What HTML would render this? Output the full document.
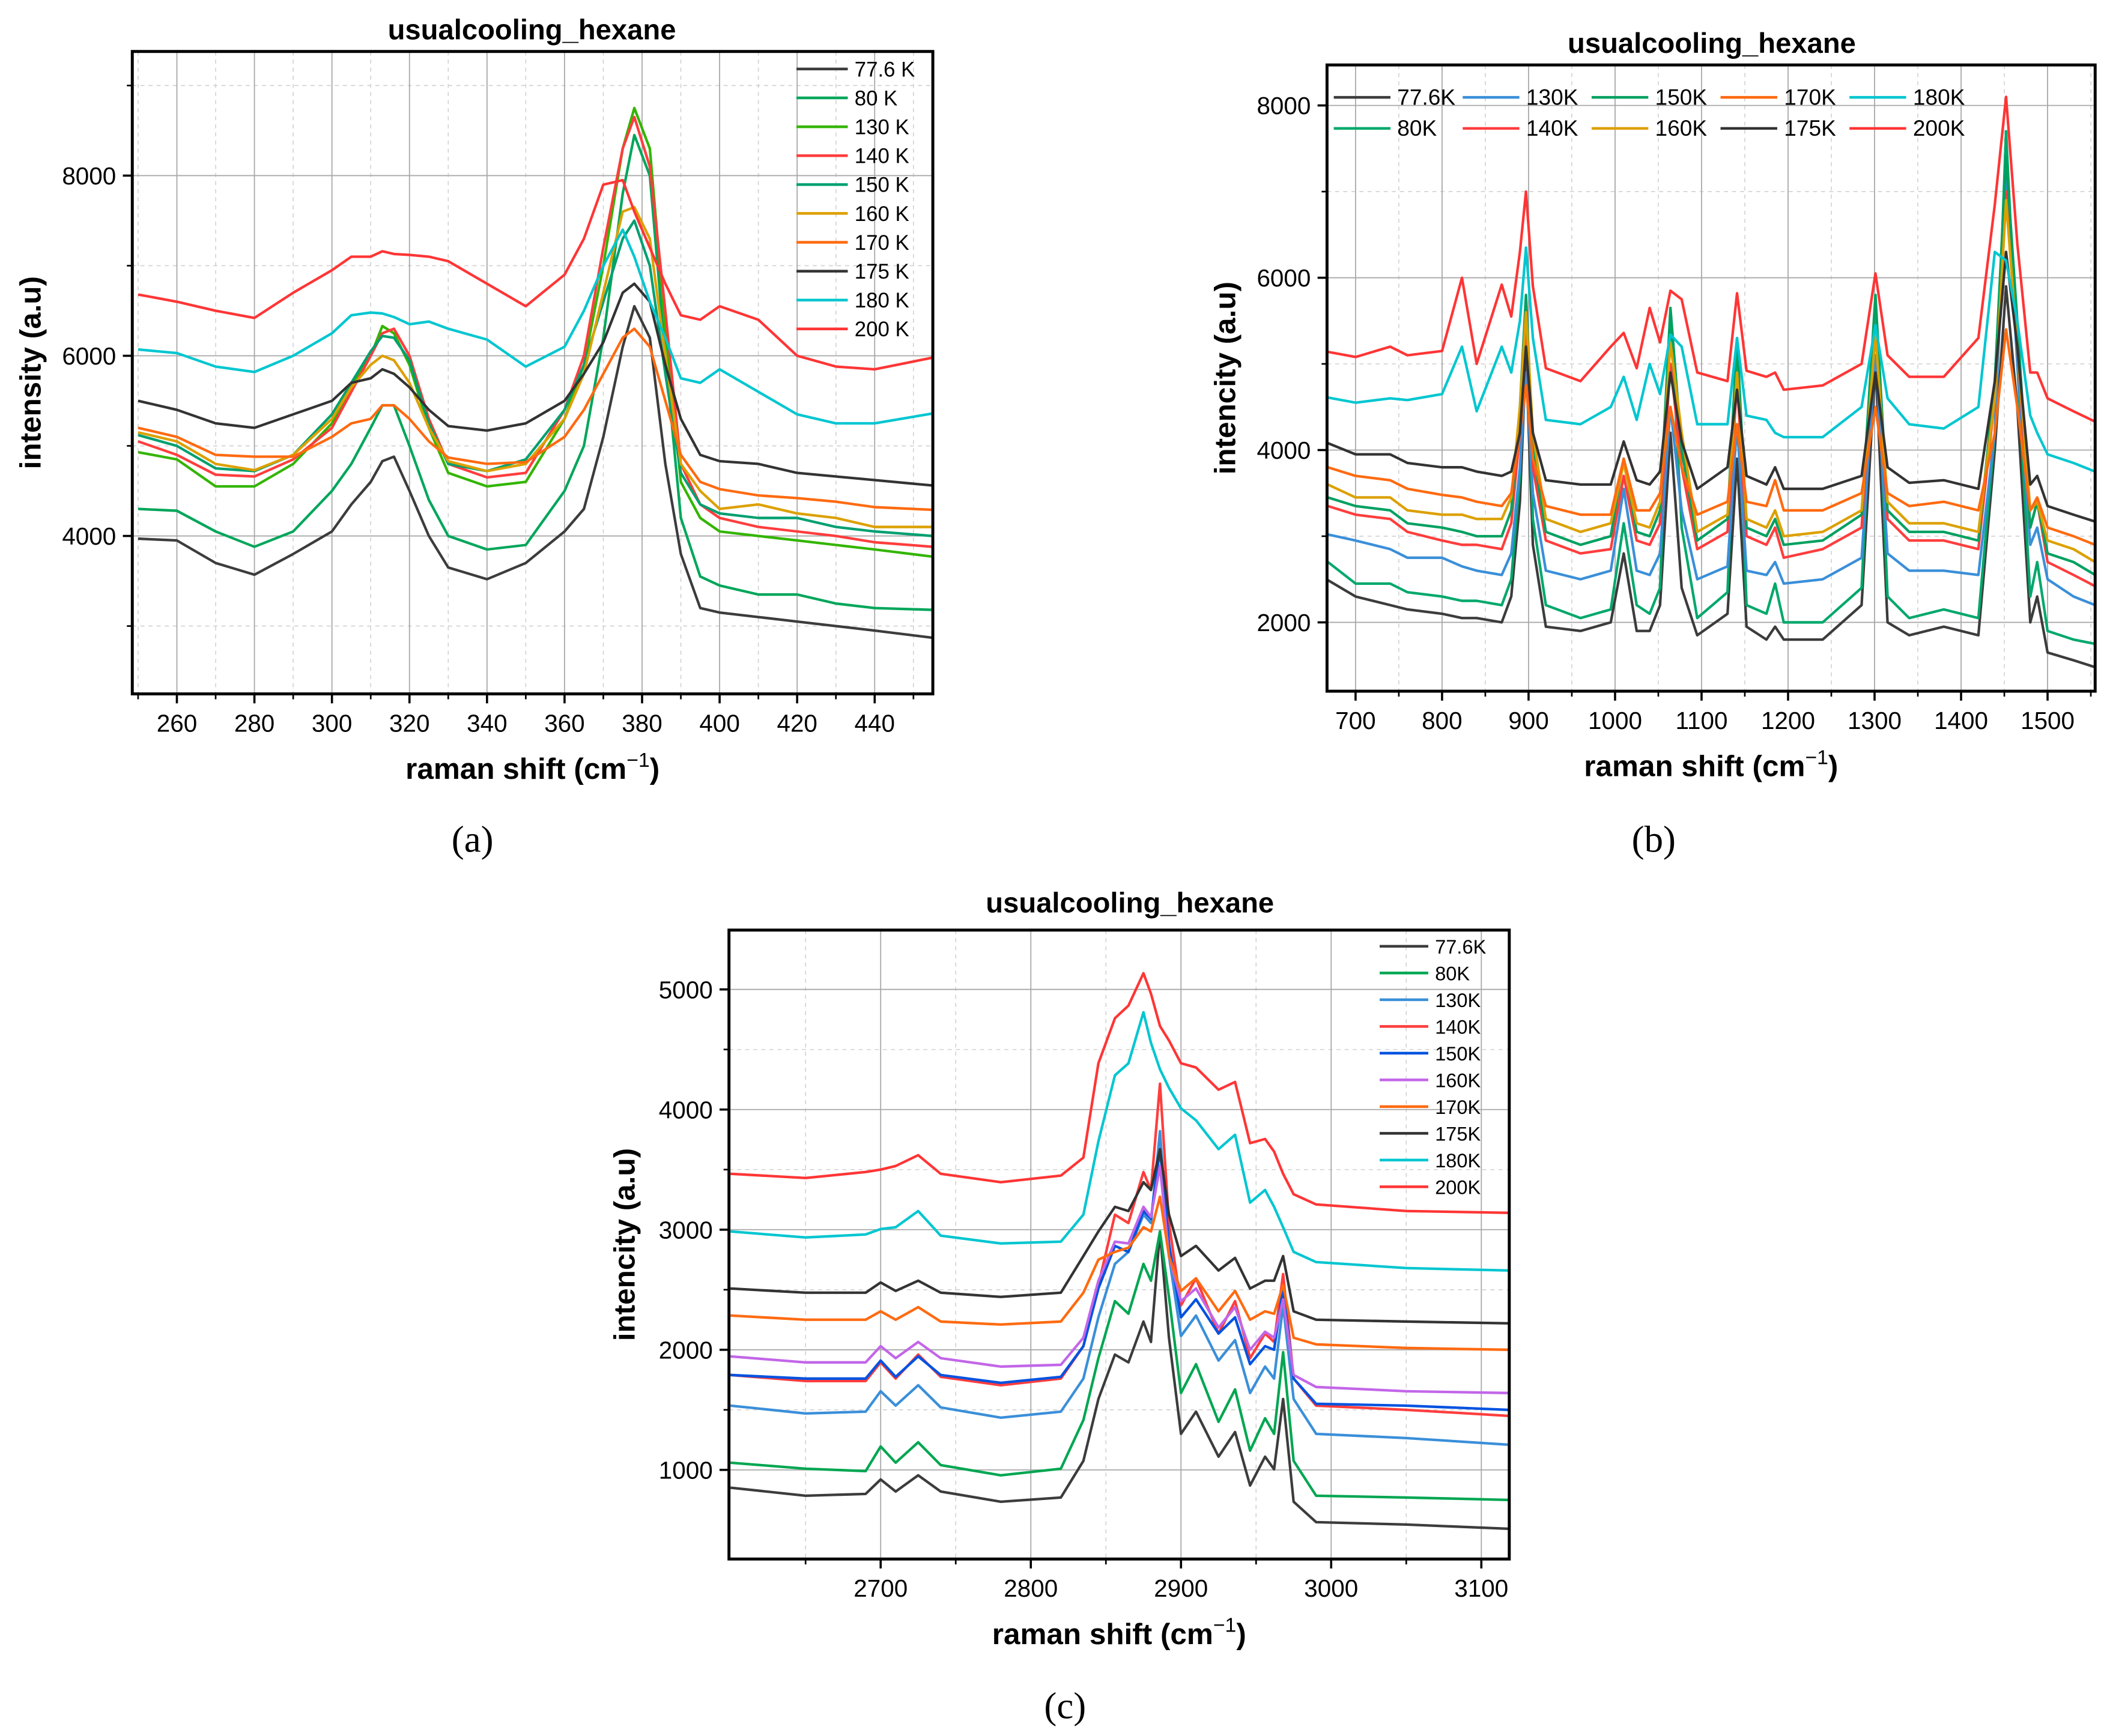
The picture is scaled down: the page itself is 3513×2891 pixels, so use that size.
<!DOCTYPE html>
<html><head><meta charset="utf-8"><style>
html,body{margin:0;padding:0;background:#fff}
svg{display:block}
text{font-family:"Liberation Sans",Arial,sans-serif}
</style></head><body>
<svg id="fig" xmlns="http://www.w3.org/2000/svg" width="3513" height="2891" viewBox="0 0 1563 1286">
<rect x="0" y="0" width="1563" height="1286" fill="#fff"/>
<text x="350" y="631" font-size="28" text-anchor="middle" style="font-family:'Liberation Serif',serif">(a)</text>
<text x="1225" y="631" font-size="28" text-anchor="middle" style="font-family:'Liberation Serif',serif">(b)</text>
<text x="789" y="1273" font-size="28" text-anchor="middle" style="font-family:'Liberation Serif',serif">(c)</text>
</svg>
<script>
// ---------- Panel A data ----------
const aX = [250,260,270,280,290,300,305,310,313,316,320,325,330,340,350,360,365,370,375,378,382,386,390,395,400,410,420,430,440,455];
const aNames = ['77.6 K','80 K','130 K','140 K','150 K','160 K','170 K','175 K','180 K','200 K'];
const aK776 = [3970,3950,3700,3570,3800,4050,4350,4600,4830,4880,4500,4000,3650,3520,3700,4050,4300,5100,6100,6550,6200,4800,3800,3200,3150,3100,3050,3000,2950,2870];
const aK80  = [4300,4280,4050,3880,4050,4500,4800,5200,5450,5450,5000,4400,4000,3850,3900,4500,5000,6200,7800,8450,8000,6000,4200,3550,3450,3350,3350,3250,3200,3180];
const aK130 = [4930,4850,4550,4550,4800,5250,5650,6000,6330,6250,5900,5200,4700,4550,4600,5300,5900,7000,8300,8750,8300,6300,4600,4200,4050,4000,3950,3900,3850,3770];
const aK140 = [5050,4900,4680,4660,4850,5200,5600,6000,6250,6300,6000,5300,4800,4650,4700,5400,6000,7200,8300,8650,8100,6500,4800,4350,4200,4100,4050,4000,3930,3880];
const aK150 = [5120,5000,4750,4720,4900,5350,5700,6050,6220,6200,5950,5250,4800,4720,4850,5400,5900,6600,7300,7500,7000,5800,4700,4350,4250,4200,4200,4100,4050,4000];
const aK160 = [5150,5050,4800,4730,4900,5300,5650,5900,6000,5950,5700,5200,4830,4720,4800,5300,5800,6700,7600,7650,7300,6000,4800,4500,4300,4350,4250,4200,4100,4100];
const aK170 = [5200,5100,4900,4880,4880,5100,5250,5300,5450,5450,5300,5050,4870,4800,4820,5100,5400,5800,6200,6300,6100,5500,4900,4600,4520,4450,4420,4380,4320,4290];
const aK175 = [5500,5400,5250,5200,5350,5500,5700,5750,5850,5800,5650,5400,5220,5170,5250,5500,5800,6150,6700,6800,6600,5900,5300,4900,4830,4800,4700,4660,4620,4560];
const aK180 = [6070,6030,5880,5820,6000,6250,6450,6480,6470,6430,6350,6380,6300,6180,5880,6100,6500,7000,7400,7100,6600,6200,5750,5700,5850,5600,5350,5250,5250,5360];
const aK200 = [6680,6600,6500,6420,6700,6950,7100,7100,7160,7130,7120,7100,7050,6800,6550,6900,7300,7900,7950,7600,7200,6800,6450,6400,6550,6400,6000,5880,5850,5980];
const aXTicks = [260,280,300,320,340,360,380,400,420,440];
const aYTicks = [4000,6000,8000];

// ---------- Panel B data ----------
const bX = [668,700,740,760,800,823,840,869,880,890,897,905,920,960,995,1010,1025,1040,1052,1064,1077,1095,1130,1141,1152,1175,1185,1195,1240,1285,1301,1315,1340,1380,1420,1439,1452,1465,1480,1488,1500,1530,1555];
const bNames = ['77.6K','80K','130K','140K','150K','160K','170K','175K','180K','200K'];
const bK776 = [2490,2300,2200,2150,2100,2050,2050,2000,2300,3400,5100,2900,1950,1900,2000,2800,1900,1900,2200,4200,2400,1850,2100,3900,1950,1800,1950,1800,1800,2200,5000,2000,1850,1950,1850,4000,5900,4500,2000,2300,1650,1560,1480];
const bK80  = [2700,2450,2450,2350,2300,2250,2250,2200,2500,3700,5400,3200,2200,2050,2150,3150,2200,2100,2400,5600,3100,2050,2350,5100,2200,2100,2450,2000,2000,2400,5700,2300,2050,2150,2050,4200,7700,5000,2300,2700,1900,1800,1750];
const bK130 = [3020,2950,2850,2750,2750,2650,2600,2550,2800,3800,4900,3500,2600,2500,2600,3550,2600,2550,2800,4500,3300,2500,2650,4300,2600,2550,2700,2450,2500,2750,5100,2800,2600,2600,2550,4200,7200,5000,2900,3100,2500,2300,2200];
const bK140 = [3350,3250,3200,3050,2950,2900,2900,2850,3150,4200,5300,3800,2950,2800,2850,3700,2950,2900,3150,5000,3800,2850,3050,4800,3000,2900,3100,2750,2850,3100,5600,3200,2950,2950,2850,4600,7000,5200,3100,3400,2700,2550,2420];
const bK150 = [3450,3350,3300,3150,3100,3050,3000,3000,3300,4500,5800,4000,3050,2900,3000,3900,3050,3000,3300,5650,4000,2950,3200,5300,3100,3000,3200,2900,2950,3250,5800,3300,3050,3050,2950,4800,7400,5500,3100,3400,2800,2700,2550];
const bK160 = [3600,3450,3450,3300,3250,3250,3200,3200,3450,4500,5600,4200,3200,3050,3150,3850,3150,3100,3400,5250,4200,3050,3250,4900,3200,3100,3300,3000,3050,3300,5350,3400,3150,3150,3050,4600,6900,5200,3300,3400,2950,2850,2700];
const bK170 = [3800,3700,3650,3550,3480,3450,3400,3350,3500,4200,4750,3900,3350,3250,3250,3900,3300,3300,3500,4500,3800,3250,3400,4300,3400,3350,3650,3300,3300,3500,4500,3500,3350,3400,3300,4200,5400,4500,3300,3450,3100,3000,2900];
const bK175 = [4080,3950,3950,3850,3800,3800,3750,3700,3750,4200,5200,4200,3650,3600,3600,4100,3650,3600,3750,4900,4100,3550,3800,4700,3700,3600,3800,3550,3550,3700,4900,3800,3620,3650,3550,4800,6300,5200,3600,3700,3350,3250,3170];
const bK180 = [4610,4550,4600,4580,4650,5200,4450,5200,4900,5500,6350,5300,4350,4300,4500,4850,4350,5000,4650,5340,5200,4300,4300,5300,4400,4350,4200,4150,4150,4500,5450,4600,4300,4250,4500,6300,6200,5500,4400,4200,3950,3850,3750];
const bK200 = [5140,5080,5200,5100,5150,6000,5000,5920,5550,6300,7000,5900,4950,4800,5200,5360,4950,5650,5250,5850,5750,4900,4800,5820,4920,4850,4900,4700,4750,5000,6050,5100,4850,4850,5300,6850,8100,6400,4900,4900,4600,4450,4330];
const bXTicks = [700,800,900,1000,1100,1200,1300,1400,1500];
const bYTicks = [2000,4000,6000,8000];

// ---------- Panel C data ----------
const cX = [2600,2650,2690,2700,2710,2725,2740,2780,2820,2835,2845,2856,2865,2875,2880,2886,2892,2900,2910,2925,2936,2946,2956,2962,2968,2975,2990,3050,3118];
const cNames = ['77.6K','80K','130K','140K','150K','160K','170K','175K','180K','200K'];
const cK776 = [852,785,800,920,820,955,820,735,770,1075,1590,1960,1895,2235,2065,2985,2100,1300,1485,1110,1315,870,1110,1005,1590,735,565,545,510];
const cK80  = [1060,1010,990,1195,1060,1230,1040,955,1010,1415,1930,2405,2300,2715,2575,2985,2440,1640,1880,1400,1670,1160,1430,1300,1980,1075,785,770,750];
const cK130 = [1535,1470,1485,1655,1535,1705,1520,1435,1485,1760,2270,2715,2815,3125,3055,3820,2780,2115,2285,1910,2080,1640,1860,1760,2370,1590,1300,1265,1210];
const cK140 = [1790,1740,1740,1895,1760,1960,1775,1705,1760,2030,2540,3125,3055,3480,3330,4215,3055,2370,2595,2135,2405,1930,2135,2065,2630,1760,1535,1500,1450];
const cK150 = [1790,1760,1760,1910,1775,1945,1790,1725,1775,2030,2510,2865,2815,3155,3090,3670,2885,2270,2420,2135,2270,1880,2030,2000,2510,1760,1550,1535,1500];
const cK160 = [1945,1895,1895,2030,1930,2065,1930,1860,1875,2100,2575,2900,2885,3190,3105,3530,2780,2405,2510,2185,2355,2000,2150,2100,2420,1790,1690,1655,1640];
const cK170 = [2285,2250,2250,2320,2250,2355,2235,2210,2235,2475,2750,2815,2850,3020,2985,3275,2780,2490,2595,2320,2490,2250,2320,2300,2540,2100,2045,2015,2000];
const cK175 = [2510,2475,2475,2560,2490,2575,2475,2440,2475,2780,2985,3190,3155,3395,3330,3670,3125,2780,2865,2660,2765,2510,2575,2575,2780,2320,2250,2235,2220];
const cK180 = [2985,2935,2960,3005,3020,3155,2950,2885,2900,3125,3735,4285,4385,4810,4555,4335,4180,4010,3910,3670,3790,3225,3330,3190,3020,2815,2730,2680,2660];
const cK200 = [3465,3430,3480,3500,3530,3620,3465,3395,3450,3600,4385,4760,4865,5135,4965,4695,4575,4385,4350,4165,4230,3720,3755,3650,3465,3295,3210,3155,3140];
const cXTicks = [2700,2800,2900,3000,3100];
const cYTicks = [1000,2000,3000,4000,5000];

const NS = 'http://www.w3.org/2000/svg';
const svg = document.getElementById('fig');
function mk(tag, attrs, parent) {
  const e = document.createElementNS(NS, tag);
  for (const k in attrs) e.setAttribute(k, attrs[k]);
  (parent || svg).appendChild(e);
  return e;
}

function drawPanel(p) {
  const g = mk('g', {});
  
  
  const sx = v => p.L + (v - p.x0) / (p.x1 - p.x0) * (p.R - p.L);
  const sy = v => p.B - (v - p.y0) / (p.y1 - p.y0) * (p.B - p.T);
  for (const v of p.xMinor) {
    const l = mk('line', {x1: sx(v), x2: sx(v), y1: p.T, y2: p.B, stroke: '#d0d0d0', 'stroke-width': 0.7, 'stroke-dasharray': '3,3'}, g);
    
    
  }
  for (const v of p.yMinor) {
    const l = mk('line', {x1: p.L, x2: p.R, y1: sy(v), y2: sy(v), stroke: '#d0d0d0', 'stroke-width': 0.7, 'stroke-dasharray': '3,3'}, g);
    
    
  }
  for (const v of p.xTicks) {
    const l = mk('line', {x1: sx(v), x2: sx(v), y1: p.T, y2: p.B, stroke: '#a8a8a8', 'stroke-width': 0.8}, g);
    
    
  }
  for (const v of p.yTicks) {
    const l = mk('line', {x1: p.L, x2: p.R, y1: sy(v), y2: sy(v), stroke: '#a8a8a8', 'stroke-width': 0.8}, g);
    
    
  }
  const clipId = p.id + '-clip';
  const defs = mk('defs', {}, g);
  const cp = mk('clipPath', {id: clipId}, defs);
  mk('rect', {x: p.L, y: p.T, width: p.R - p.L, height: p.B - p.T}, cp);
  const sg = mk('g', {'clip-path': 'url(#' + clipId + ')'}, g);
  p.series.forEach((s, i) => {
    const d = p.xs.map((x, j) => (j ? 'L' : 'M') + sx(x).toFixed(2) + ',' + sy(s[j]).toFixed(2)).join('');
    const path = mk('path', {d: d, fill: 'none', stroke: p.colors[i], 'stroke-width': 1.9, 'stroke-linejoin': 'round'}, sg);
    
    
  });
  const fr = mk('rect', {x: p.L, y: p.T, width: p.R - p.L, height: p.B - p.T, fill: 'none', stroke: '#000', 'stroke-width': 2.2}, g);
  
  
  for (const v of p.xTicks) {
    mk('line', {x1: sx(v), x2: sx(v), y1: p.B, y2: p.B + 7, stroke: '#000', 'stroke-width': 1.6}, g);
    const t = mk('text', {x: sx(v), y: p.B + 28, 'font-size': 18, 'text-anchor': 'middle'}, g);
    t.textContent = v;
    
    
  }
  for (const v of p.xMinor) mk('line', {x1: sx(v), x2: sx(v), y1: p.B, y2: p.B + 4, stroke: '#000', 'stroke-width': 1.2}, g);
  for (const v of p.yTicks) {
    mk('line', {x1: p.L - 7, x2: p.L, y1: sy(v), y2: sy(v), stroke: '#000', 'stroke-width': 1.6}, g);
    const t = mk('text', {x: p.L - 12, y: sy(v) + 6.5, 'font-size': 18, 'text-anchor': 'end'}, g);
    t.textContent = v;
    
    
  }
  for (const v of p.yMinor) mk('line', {x1: p.L - 4, x2: p.L, y1: sy(v), y2: sy(v), stroke: '#000', 'stroke-width': 1.2}, g);
  const ti = mk('text', {x: p.titleX, y: p.titleY, 'font-size': 21, 'font-weight': 'bold', 'text-anchor': 'middle'}, g);
  ti.textContent = 'usualcooling_hexane';
  
  
  const xt = mk('text', {x: (p.L + p.R) / 2, y: p.B + 63, 'font-size': 22, 'font-weight': 'bold', 'text-anchor': 'middle'}, g);
  xt.innerHTML = 'raman shift (cm<tspan font-size="15" font-weight="normal" dy="-9">\u22121</tspan><tspan dy="9">)</tspan>';
  
  
  const yt = mk('text', {x: 0, y: 0, 'font-size': 22, 'font-weight': 'bold', 'text-anchor': 'middle', transform: 'translate(' + p.ylabX + ',' + ((p.T + p.B) / 2) + ') rotate(-90)'}, g);
  yt.textContent = p.ylab;
  
  
  p.names.forEach((n, i) => {
    const pos = p.legendPos(i);
    const lg = mk('g', {}, g);
    
    
    mk('line', {x1: pos[0], x2: pos[0] + p.legLen, y1: pos[1], y2: pos[1], stroke: p.colors[i], 'stroke-width': 2}, lg);
    const t = mk('text', {x: pos[0] + p.legLen + 5, y: pos[1] + 5.5, 'font-size': p.legFont}, lg);
    t.textContent = n;
  });
}

const range = (a, b, s) => { const r = []; for (let v = a; v <= b + 1e-9; v += s) r.push(v); return r; };

drawPanel({
  id: 'panel-a', L: 98, R: 691, T: 38, B: 514, x0: 248.5, x1: 455, y0: 2247, y1: 9378,
  xs: aX, series: [aK776, aK80, aK130, aK140, aK150, aK160, aK170, aK175, aK180, aK200],
  names: aNames,
  colors: ['#3c3c3c', '#00a65a', '#33b500', '#ff3d3d', '#00a070', '#dca000', '#ff6a10', '#333333', '#00c6d0', '#ff3535'],
  xTicks: aXTicks, yTicks: aYTicks, xMinor: range(250, 450, 20), yMinor: [3000, 5000, 7000, 9000],
  titleX: 394, titleY: 29, ylab: 'intensity (a.u)', ylabX: 30,
  legLen: 38, legFont: 15.5, legendPos: i => [590, 51 + i * 21.4]
});
drawPanel({
  id: 'panel-b', L: 983, R: 1552, T: 48, B: 512, x0: 667, x1: 1555, y0: 1201, y1: 8470,
  xs: bX, series: [bK776, bK80, bK130, bK140, bK150, bK160, bK170, bK175, bK180, bK200],
  names: bNames,
  colors: ['#3c3c3c', '#00a86b', '#3a8fd9', '#ff3d3d', '#00a060', '#dca000', '#ff6a10', '#333333', '#00c6d0', '#ff3535'],
  xTicks: bXTicks, yTicks: bYTicks, xMinor: range(750, 1550, 100), yMinor: [3000, 5000, 7000],
  titleX: 1268, titleY: 39, ylab: 'intencity (a.u)', ylabX: 915,
  legLen: 42, legFont: 16.5, legendPos: i => [988 + Math.floor(i / 2) * 95.5, 72 + (i % 2) * 23]
});
drawPanel({
  id: 'panel-c', L: 540, R: 1118, T: 689, B: 1155, x0: 2599, x1: 3118.6, y0: 258, y1: 5494,
  xs: cX, series: [cK776, cK80, cK130, cK140, cK150, cK160, cK170, cK175, cK180, cK200],
  names: cNames,
  colors: ['#3c3c3c', '#00a651', '#3a8fd9', '#ff3d3d', '#0052e0', '#c266e8', '#ff6a10', '#333333', '#00c6d0', '#ff3535'],
  xTicks: cXTicks, yTicks: cYTicks, xMinor: range(2650, 3050, 100), yMinor: [1500, 2500, 3500, 4500],
  titleX: 837, titleY: 676, ylab: 'intencity (a.u)', ylabX: 470,
  legLen: 36, legFont: 14.5, legendPos: i => [1022, 701 + i * 19.8]
});
</script>
</body></html>
